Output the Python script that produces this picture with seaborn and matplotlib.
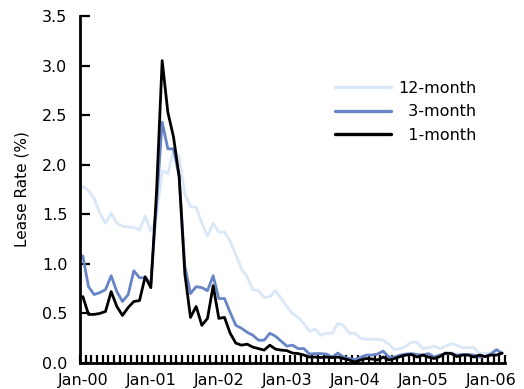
import numpy as np
import pandas as pd
import matplotlib
matplotlib.use("Agg")
import matplotlib.pyplot as plt
import seaborn as sns

# ---- data (monthly, Jan-2000 .. Mar-2006) ----
months = list(pd.date_range("2000-01-01", periods=75, freq="MS").strftime("%b-%y"))

rate_12m = [1.78, 1.74, 1.66, 1.51, 1.41, 1.51, 1.41, 1.38, 1.37, 1.37,
            1.34, 1.48, 1.33, 1.48, 1.94, 1.91, 2.15, 2.08, 1.70, 1.58,
            1.57, 1.41, 1.28, 1.41, 1.32, 1.32, 1.23, 1.09, 0.95, 0.87,
            0.74, 0.73, 0.66, 0.67, 0.73, 0.65, 0.57, 0.50, 0.46, 0.40,
            0.32, 0.34, 0.28, 0.30, 0.30, 0.40, 0.38, 0.30, 0.30, 0.25,
            0.24, 0.24, 0.24, 0.23, 0.19, 0.135, 0.145, 0.17, 0.21, 0.21,
            0.145, 0.155, 0.17, 0.145, 0.17, 0.195, 0.18, 0.155, 0.155, 0.155,
            0.095, 0.10, 0.10, 0.13, 0.11]

rate_3m = [1.08, 0.77, 0.69, 0.71, 0.74, 0.88, 0.72, 0.62, 0.69, 0.93,
           0.86, 0.86, 0.80, 1.60, 2.43, 2.16, 2.16, 1.88, 0.98, 0.70,
           0.77, 0.76, 0.73, 0.88, 0.65, 0.65, 0.51, 0.38, 0.35, 0.31,
           0.28, 0.23, 0.23, 0.30, 0.27, 0.22, 0.17, 0.18, 0.145, 0.145,
           0.09, 0.095, 0.095, 0.09, 0.06, 0.10, 0.06, 0.045, 0.035, 0.055,
           0.08, 0.08, 0.09, 0.12, 0.06, 0.06, 0.08, 0.09, 0.095, 0.085,
           0.08, 0.095, 0.06, 0.08, 0.095, 0.10, 0.08, 0.085, 0.085, 0.08,
           0.06, 0.065, 0.09, 0.135, 0.095]

rate_1m = [0.67, 0.49, 0.49, 0.50, 0.52, 0.72, 0.57, 0.48, 0.56, 0.62,
           0.63, 0.87, 0.76, 1.72, 3.05, 2.53, 2.28, 1.88, 0.90, 0.46,
           0.57, 0.38, 0.45, 0.78, 0.45, 0.46, 0.30, 0.20, 0.18, 0.19,
           0.16, 0.145, 0.13, 0.18, 0.14, 0.13, 0.125, 0.10, 0.095, 0.08,
           0.06, 0.06, 0.055, 0.06, 0.055, 0.06, 0.045, 0.03, 0.01, 0.03,
           0.045, 0.04, 0.03, 0.06, 0.03, 0.045, 0.065, 0.08, 0.085, 0.06,
           0.08, 0.06, 0.045, 0.065, 0.10, 0.095, 0.065, 0.08, 0.08, 0.06,
           0.08, 0.065, 0.08, 0.08, 0.10]

series_names = ["12-month", "3-month", "1-month"]
legend_labels = ["12-month", "  3-month", "  1-month"]
colors = {"12-month": "#d9e7f7", "3-month": "#6784c6", "1-month": "#000000"}
year_labels = ["Jan-00", "Jan-01", "Jan-02", "Jan-03", "Jan-04", "Jan-05", "Jan-06"]

# ---- long-form table ----
n = len(months)
df = pd.DataFrame({
    "idx": list(range(n)) * 3,
    "month": months * 3,
    "rate": rate_12m + rate_3m + rate_1m,
    "series": [s for s in series_names for _ in range(n)],
})

sns.set_style("ticks")
plt.rcParams["font.family"] = ["DejaVu Sans"]
plt.rcParams["text.color"] = "black"
plt.rcParams["axes.labelcolor"] = "black"
plt.rcParams["xtick.color"] = "black"
plt.rcParams["ytick.color"] = "black"

fig = plt.figure(figsize=(5.24, 3.89), dpi=100)
ax = fig.add_axes([80 / 524, 1 - 363 / 389, 425 / 524, (363 - 16) / 389])

sns.lineplot(data=df, x="idx", y="rate", hue="series", hue_order=series_names,
             palette=colors, linewidth=2.0, ax=ax, legend=True, estimator=None)

ax.set_xlim(-0.5, n - 0.5)
ax.set_ylim(0, 3.5)

# y axis
yt = np.arange(0, 3.51, 0.5)
ax.set_yticks(yt)
ax.set_yticklabels([f"{v:.1f}" for v in yt])
ax.tick_params(axis="y", direction="in", length=7, width=1.6, labelsize=11.5, pad=9,
               colors="black", labelcolor="black")
ax.set_ylabel("Lease Rate (%)", fontsize=11, labelpad=9, color="black")

# x axis: comb of monthly ticks + yearly labels
ax.set_xticks(np.arange(-0.5, n, 1.0), minor=True)
ax.tick_params(axis="x", which="minor", direction="in", length=6, width=1.6, colors="black")
ax.set_xticks(list(range(0, n, 12)))
ax.set_xticklabels(year_labels)
ax.tick_params(axis="x", which="major", length=0, labelsize=11.5, pad=7, labelcolor="black")
ax.set_xlabel("")

for side in ["top", "right"]:
    ax.spines[side].set_visible(False)
for side in ["left", "bottom"]:
    ax.spines[side].set_linewidth(2.0)
    ax.spines[side].set_color("black")

handles, _ = ax.get_legend_handles_labels()
for h in handles:
    h.set_linewidth(2.4)
leg = ax.legend(handles[:3], legend_labels, frameon=False, fontsize=11.5,
                loc="upper left", bbox_to_anchor=(335 / 524, 1 - 81 / 389),
                bbox_transform=fig.transFigure, borderpad=0, borderaxespad=0,
                handlelength=3.5, handletextpad=0.45, labelspacing=0.52)
for t in leg.get_texts():
    t.set_color("black")

fig.savefig("out.png", dpi=100)
